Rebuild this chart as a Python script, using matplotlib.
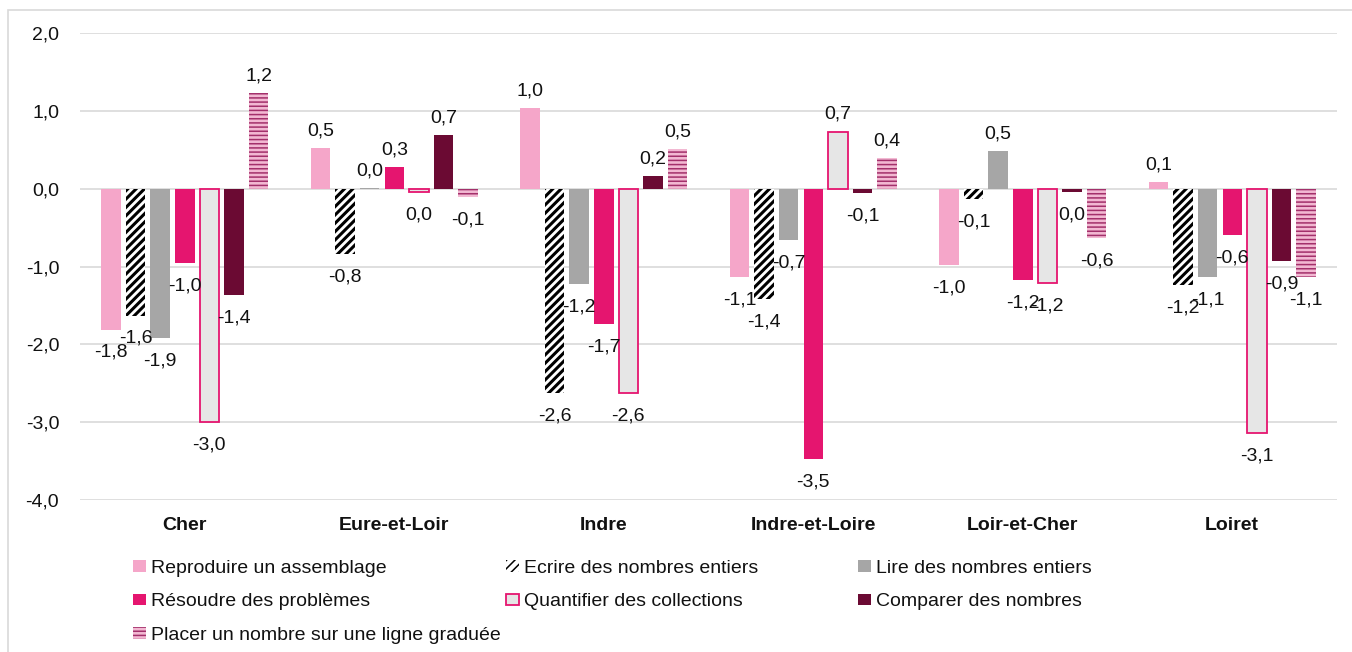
import matplotlib
matplotlib.use("Agg")
import matplotlib.pyplot as plt
import numpy as np
from matplotlib.patches import Patch, Rectangle

plt.rcParams['font.family'] = ['Liberation Sans', 'DejaVu Sans']

categories = ["Cher", "Eure-et-Loir", "Indre", "Indre-et-Loire", "Loir-et-Cher", "Loiret"]
series_names = ["Reproduire un assemblage", "Ecrire des nombres entiers", "Lire des nombres entiers",
                "Résoudre des problèmes", "Quantifier des collections", "Comparer des nombres",
                "Placer un nombre sur une ligne graduée"]

reproduire = [-1.81, 0.52, 1.03, -1.13, -0.98, 0.08]
ecrire = [-1.63, -0.84, -2.62, -1.42, -0.13, -1.24]
lire = [-1.92, 0.01, -1.23, -0.66, 0.48, -1.13]
resoudre = [-0.96, 0.28, -1.74, -3.47, -1.17, -0.59]
quantifier = [-3.0, -0.04, -2.63, 0.73, -1.21, -3.14]
comparer = [-1.37, 0.69, 0.16, -0.06, -0.04, -0.93]
placer = [1.23, -0.11, 0.51, 0.39, -0.64, -1.14]

series = [reproduire, ecrire, lire, resoudre, quantifier, comparer, placer]

styles = [
    dict(facecolor="#F5A6C9", edgecolor="#F5A6C9", hatch=None, lw=0, hlw=None),
    dict(facecolor="#FFFFFF", edgecolor="#000000", hatch="////", lw=0, hlw=2.2),
    dict(facecolor="#A6A6A6", edgecolor="#A6A6A6", hatch=None, lw=0, hlw=None),
    dict(facecolor="#E5156F", edgecolor="#E5156F", hatch=None, lw=0, hlw=None),
    dict(facecolor="#E6E6E6", edgecolor="#E5156F", hatch=None, lw=1.3, hlw=None),
    dict(facecolor="#6B0A33", edgecolor="#6B0A33", hatch=None, lw=0, hlw=None),
    dict(facecolor="#F2B8D2", edgecolor="#A3306B", hatch="----", lw=0, hlw=1.1),
]

W, H = 1352, 652
fig = plt.figure(figsize=(W / 100, H / 100), dpi=100)
ax = fig.add_axes([80 / W, 1 - 500 / H, (1337 - 80) / W, (500 - 33) / H])

x = np.arange(len(categories))
pitch = 24.6 / 209.5
width = 19.5 / 209.5
FS = 14
txtcol = "#111111"

def fmt(v):
    s = "{:.1f}".format(v)
    if s == "-0.0":
        s = "0.0"
    return s.replace(".", ",")

handles = []
for i, (vals, st) in enumerate(zip(series, styles)):
    if st['hlw'] is not None:
        plt.rcParams['hatch.linewidth'] = st['hlw']
    xs = x + (i - 3) * pitch
    bars = ax.bar(xs, vals, width=width, facecolor=st['facecolor'], edgecolor=st['edgecolor'],
                  hatch=st['hatch'], linewidth=st['lw'], zorder=3)
    if st['hlw'] is not None:
        for b in bars:
            try:
                b.set_hatch_linewidth(st['hlw'])
            except AttributeError:
                pass
    for xi, v in zip(xs, vals):
        off = 12.5 if v >= 0 else -16.5
        ax.annotate(fmt(v), (xi, v), xytext=(0, off), textcoords="offset points",
                    ha="center", va="center", fontsize=FS, color=txtcol, zorder=5)
    h = Patch(facecolor=st['facecolor'], edgecolor=st['edgecolor'], hatch=st['hatch'],
              linewidth=st['lw'])
    if st['hlw'] is not None:
        try:
            h.set_hatch_linewidth(st['hlw'])
        except AttributeError:
            pass
    handles.append(h)

ax.set_xlim(-0.5, len(categories) - 0.5)
ax.set_ylim(-4.0, 2.0)
ticks = np.arange(-4, 2.01, 1.0)
ax.set_yticks(ticks)
ax.set_yticklabels([fmt(t) for t in ticks], fontsize=FS, color=txtcol)
ax.set_xticks(x)
ax.set_xticklabels(categories, fontsize=FS, fontweight="bold", color=txtcol)
ax.tick_params(axis="y", length=0, pad=15)
ax.tick_params(axis="x", length=0, pad=12.5)
ax.grid(axis="y", color="#D9D9D9", linewidth=1.2, zorder=0)
for s in ax.spines.values():
    s.set_visible(False)

# legend in three columns placed manually
cols = [([0, 3, 6], 133), ([1, 4], 506), ([2, 5], 858)]
for idxs, xpix in cols:
    leg = fig.legend([handles[k] for k in idxs], [series_names[k] for k in idxs],
                     loc="upper left", bbox_to_anchor=(xpix / W, 1 - 560 / H),
                     frameon=False, fontsize=FS, handlelength=0.65, handleheight=0.55,
                     handletextpad=0.28, labelspacing=0.84, borderpad=0, borderaxespad=0)
    for t in leg.get_texts():
        t.set_color(txtcol)

fig.add_artist(Rectangle((8 / W, -0.05), 1.1, 1 - 10 / H + 0.05, transform=fig.transFigure,
                         fill=False, edgecolor="#D9D9D9", linewidth=1.2))

fig.savefig("out.png", dpi=100)
